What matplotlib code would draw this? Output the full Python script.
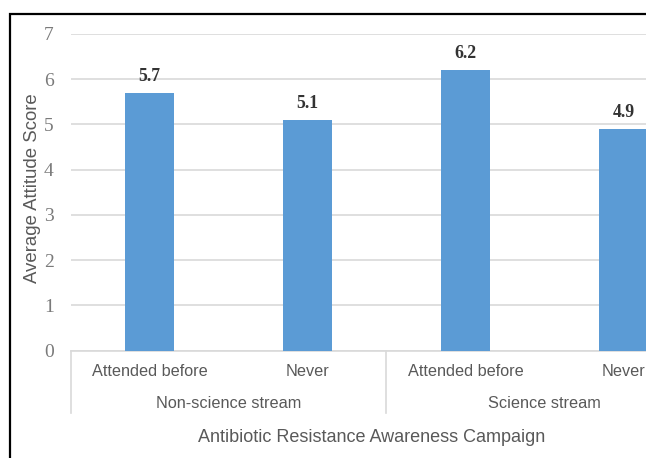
import matplotlib.pyplot as plt
from matplotlib.patches import Rectangle

# mean attitude scores per stream / campaign attendance
groups = ['Non-science stream', 'Science stream']
attendance = ['Attended before', 'Never', 'Attended before', 'Never']
scores = [5.7, 5.1, 6.2, 4.9]

bar_color = '#5B9BD5'
txt = '#595959'
grid_c = '#d9d9d9'

W, H = 646, 458
fig = plt.figure(figsize=(W / 100, H / 100), dpi=100)

# plot area in pixels (runs past the right edge of the figure)
x0, x1 = 70.5, 702.5
y_top, y_bot = 34.0, 350.7
ax = fig.add_axes([x0 / W, 1 - y_bot / H, (x1 - x0) / W, (y_bot - y_top) / H])

x = list(range(len(scores)))
ax.bar(x, scores, width=0.31, color=bar_color, zorder=3)
for xi, s in zip(x, scores):
    ax.annotate(f'{s:.1f}', (xi, s), xytext=(0, 12), textcoords='offset points',
                ha='center', va='center', fontsize=12.8, fontweight='bold',
                family='Liberation Serif', color='#333333')

ax.set_xlim(-0.5, 3.5)
ax.set_ylim(0, 7)
ax.set_yticks(range(8))
ax.yaxis.grid(True, color=grid_c, lw=1.2, zorder=0)
ax.tick_params(axis='y', length=0, pad=12, labelsize=14, labelcolor='#7a7a7a')
for lab in ax.get_yticklabels():
    lab.set_family('Liberation Serif')
ax.set_xticks([])
for side in ['top', 'right', 'left']:
    ax.spines[side].set_visible(False)
ax.spines['bottom'].set_color(grid_c)
ax.spines['bottom'].set_linewidth(1.2)

# two-level category axis
tr = ax.get_xaxis_transform()
ph = y_bot - y_top
for xi, lab in zip(x, attendance):
    ax.text(xi, -(371 - y_bot) / ph, lab, transform=tr, ha='center', va='center',
            fontsize=11.7, color=txt, family='Liberation Sans')
for gi, g in enumerate(groups):
    ax.text(2 * gi + 0.5, -(403 - y_bot) / ph, g, transform=tr, ha='center',
            va='center', fontsize=11.7, color=txt, family='Liberation Sans')
for sx in [-0.5, 1.5, 3.5]:
    ax.plot([sx, sx], [0, -(413 - y_bot) / ph], transform=tr, color=grid_c,
            lw=1.2, clip_on=False)

ax.set_ylabel('Average Attitude Score', fontsize=13.4, color=txt,
              family='Liberation Sans')
ax.yaxis.set_label_coords((41 - x0) / (x1 - x0), (y_bot - 188) / ph)

fig.text(372 / W, 1 - 437 / H, 'Antibiotic Resistance Awareness Campaign',
         ha='center', va='center', fontsize=13, color=txt, family='Liberation Sans')

# black outer frame
fig.patches.append(Rectangle((10 / W, -0.2), 1.2, 1.2 - 13.5 / H, transform=fig.transFigure,
                             fill=False, ec='black', lw=1.6))

fig.savefig('out.png', dpi=100)
